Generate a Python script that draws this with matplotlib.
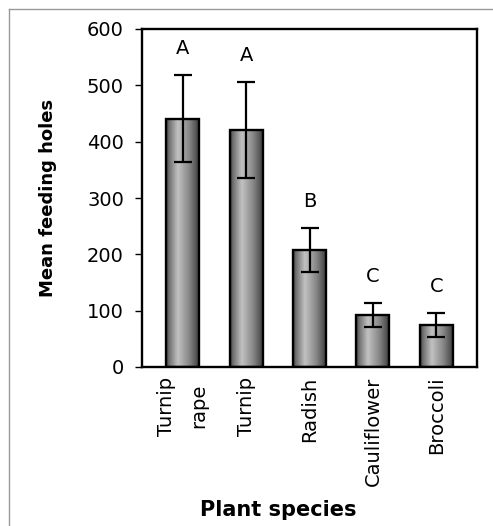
import matplotlib
matplotlib.use("Agg")
import matplotlib.pyplot as plt
import numpy as np
from matplotlib.lines import Line2D

categories = ["Turnip\nrape", "Turnip", "Radish", "Cauliflower", "Broccoli"]
means = [441, 421, 208, 92, 75]
errors = [77, 85, 39, 21, 21]
letters = ["A", "A", "B", "C", "C"]
yticks = [0, 100, 200, 300, 400, 500, 600]

plt.rcParams['font.family'] = ['DejaVu Sans']

W, H = 493, 526
AX_L, AX_R, AX_T, AX_B = 142, 477, 29, 367
fig = plt.figure(figsize=(W/100, H/100), dpi=100)
ax = fig.add_axes([AX_L/W, (H-AX_B)/H, (AX_R-AX_L)/W, (AX_B-AX_T)/H])

x = np.arange(len(categories))
bars = ax.bar(x, means, width=0.52, color='none', edgecolor='black', linewidth=1.7, zorder=3)

# cylinder-like gradient
g = np.linspace(0, 1, 256)
prof = np.interp(g, [0, 0.08, 0.36, 0.72, 0.92, 1.0], [0.22, 0.42, 0.76, 0.52, 0.33, 0.22])
img = np.tile(prof, (2, 1))
for b in bars:
    bx, by, bw, bh = b.get_x(), b.get_y(), b.get_width(), b.get_height()
    im = ax.imshow(img, cmap='gray', vmin=0, vmax=1, aspect='auto',
                   extent=[bx, bx+bw, by, by+bh], zorder=2, interpolation='bicubic')
    im.set_clip_path(b)

ax.errorbar(x, means, yerr=errors, fmt='none', ecolor='black', elinewidth=1.6,
            capsize=6.5, capthick=1.6, zorder=4)

for xi, m, e, l in zip(x, means, errors, letters):
    ax.text(xi, m + e + 47, l, ha='center', va='center', fontsize=14)

ax.set_xlim(-0.64, 4.64)
ax.set_ylim(0, 600)
ax.set_yticks(yticks)
ax.set_xticks(x)
ax.set_xticklabels(categories, rotation=90, va='top', ha='center',
                   multialignment='center', linespacing=1.85, fontsize=14)
ax.tick_params(axis='y', length=5, width=1, pad=8, labelsize=14, direction='out')
ax.tick_params(axis='x', length=0, pad=7)
for s in ax.spines.values():
    s.set_linewidth(1.7)

ax.set_ylabel("Mean feeding holes", fontsize=13, fontweight='bold', va='center')
ax.yaxis.set_label_coords((48-AX_L)/(AX_R-AX_L), 0.5)
ax.set_xlabel("Plant species", fontsize=15, fontweight='bold', va='center')
ax.xaxis.set_label_coords((278-AX_L)/(AX_R-AX_L), (AX_B-510)/(AX_B-AX_T))

# partial figure frame (top and left)
fig.add_artist(Line2D([9/W, 1.0], [(H-9)/H, (H-9)/H], color='#999999', linewidth=1, transform=fig.transFigure))
fig.add_artist(Line2D([9/W, 9/W], [(H-9)/H, 0.0], color='#999999', linewidth=1, transform=fig.transFigure))

fig.savefig("out.png", dpi=100)
